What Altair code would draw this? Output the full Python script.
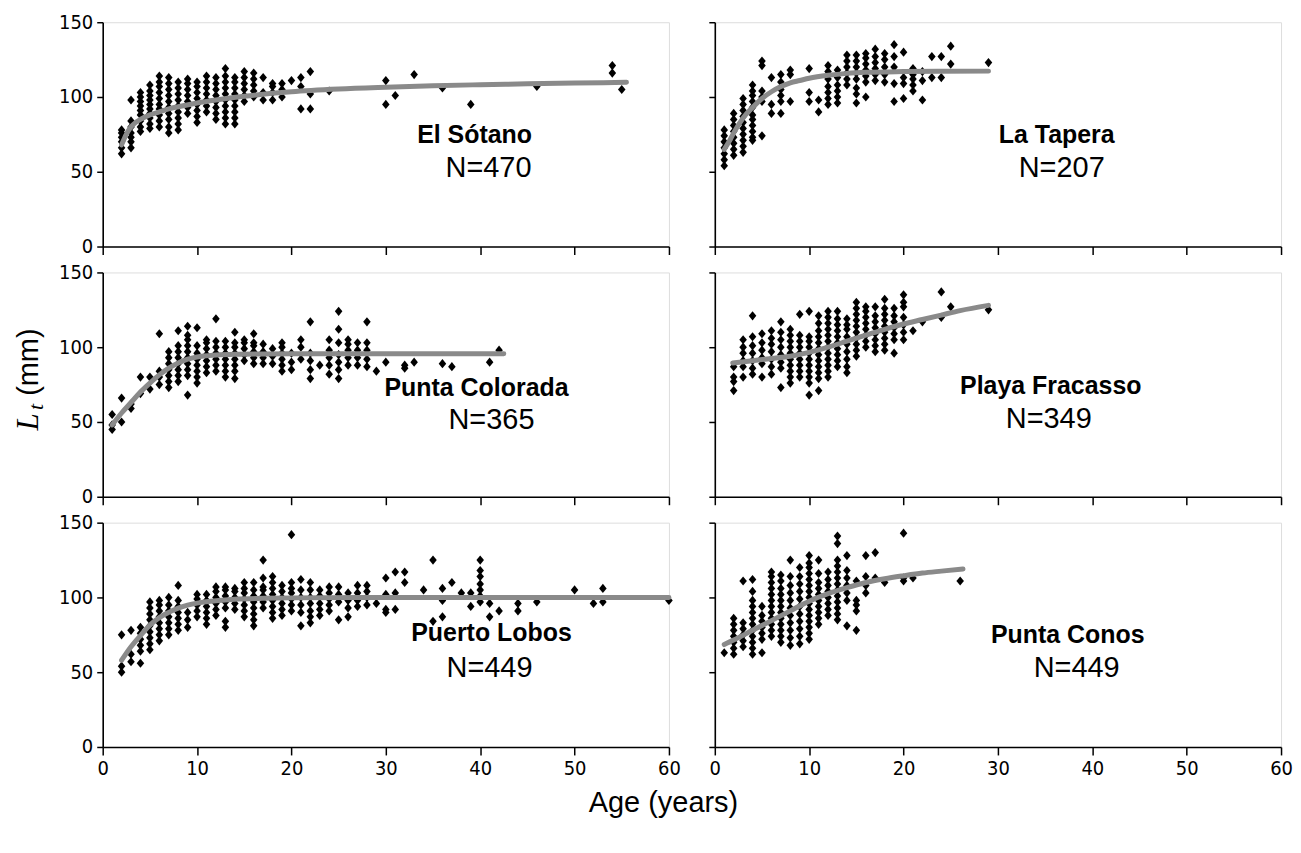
import altair as alt
import pandas as pd

# ---------------- data ----------------
# each dict: age (years) -> list of total lengths (mm) stacked at that age
ES_pts = {2: [62, 66, 70, 73, 76, 78], 3: [66, 70, 73, 76, 80, 84, 98],
          4: [77, 80, 84, 88, 91, 94, 97, 100, 103], 5: [79, 82, 86, 89, 92, 95, 98, 101, 104, 108],
          6: [80, 84, 88, 92, 95, 99, 103, 107, 110, 114], 7: [76, 80, 85, 89, 93, 97, 101, 105, 109, 113],
          8: [78, 82, 86, 90, 94, 98, 102, 106, 110], 9: [89, 93, 97, 101, 105, 109, 112],
          10: [83, 87, 91, 95, 99, 103, 107, 110], 11: [90, 94, 98, 102, 106, 110, 114],
          12: [85, 89, 93, 97, 101, 105, 109, 113], 13: [82, 86, 90, 94, 98, 102, 106, 110, 114, 119],
          14: [82, 86, 90, 94, 98, 102, 106, 110, 113], 15: [97, 101, 105, 109, 113, 117],
          16: [100, 104, 108, 112, 116], 17: [98, 103, 113], 18: [98, 103, 107, 109],
          19: [100, 105, 109], 20: [111], 21: [92, 107, 113], 22: [92, 102, 117], 24: [104],
          30: [95, 111], 31: [101], 33: [115], 36: [106], 39: [95], 46: [107], 54: [116, 121], 55: [105]}
ES_curve_age = [2, 2.5, 3, 3.5, 4, 5, 6, 7, 8, 10, 12, 15, 20, 25, 30, 35, 40, 45, 50, 55.5]
ES_curve_len = [68, 75, 80, 83, 85, 88, 90, 92, 93.5, 96, 98, 100.5, 103.5, 105.3, 106.5, 107.5, 108.2, 108.8, 109.3, 109.8]

LT_pts = {1: [54, 58, 62, 66, 70, 74, 78], 2: [61, 65, 69, 73, 77, 81, 85, 89],
          3: [63, 67, 71, 75, 79, 83, 87, 91, 95, 99], 4: [71, 73, 77, 81, 85, 88, 93, 97, 101, 104, 108],
          5: [74, 97, 100, 104, 121, 124], 6: [89, 95, 113], 7: [89, 97, 101, 105, 110, 115],
          8: [97, 115, 118], 10: [97, 103, 119], 11: [90, 98], 12: [95, 99, 103, 107, 112, 117, 121],
          13: [96, 100, 104, 108, 113, 118], 14: [108, 112, 116, 120, 124, 128],
          15: [96, 102, 106, 112, 116, 120, 124, 128], 16: [100, 110, 114, 118, 122, 126, 129],
          17: [111, 115, 119, 123, 127, 132], 18: [110, 115, 120, 125, 129], 19: [97, 109, 120, 127, 135],
          20: [99, 109, 113, 130], 21: [104, 108, 112, 115, 119], 22: [98, 111, 117], 23: [113, 127],
          24: [113, 127], 25: [122, 134], 29: [123]}
LT_curve_age = [1, 1.5, 2, 3, 4, 5, 6, 7, 8, 9, 10, 12, 14, 16, 20, 24, 29]
LT_curve_len = [65, 70, 76, 86, 93, 99, 103.5, 107, 109.5, 111, 112.5, 114.5, 115.8, 116.5, 117, 117.2, 117.3]

PC_pts = {1: [45, 48, 55], 2: [50, 66], 3: [59, 62], 4: [69, 80], 5: [72, 80], 6: [75, 80, 84, 109],
          7: [73, 77, 81, 85, 89, 93, 97], 8: [77, 81, 85, 89, 93, 97, 101, 111],
          9: [68, 81, 85, 89, 93, 97, 101, 105, 108, 114], 10: [76, 80, 84, 88, 92, 96, 101, 113],
          11: [83, 87, 91, 95, 99, 103, 105], 12: [84, 88, 92, 96, 100, 104, 119],
          13: [80, 84, 88, 92, 96, 100, 104], 14: [79, 84, 88, 92, 96, 100, 103, 110],
          15: [91, 95, 99, 103, 105], 16: [89, 93, 97, 101, 103, 109], 17: [89, 93, 97, 102],
          18: [89, 94, 99], 19: [84, 88, 92, 96, 100, 103], 20: [85, 90, 96], 21: [92, 100, 105],
          22: [79, 85, 91, 96, 117], 23: [88], 24: [82, 88, 93, 98, 105],
          25: [79, 85, 90, 95, 103, 112, 124], 26: [88, 93, 98, 102, 105], 27: [88, 93, 98, 103],
          28: [87, 92, 98, 103, 117], 29: [84], 30: [90], 32: [86, 88], 33: [90], 36: [89],
          37: [87], 41: [90], 42: [98]}
PC_curve_age = [1, 2, 3, 4, 5, 6, 7, 8, 9, 10, 12, 14, 17, 20, 30, 42.5]
PC_curve_len = [48, 56, 63, 70, 76, 81.5, 86, 89.5, 92, 93.5, 94.8, 95.3, 95.5, 95.6, 95.6, 95.6]

PF_pts = {2: [71, 77, 80, 87], 3: [80, 87, 91, 96, 100, 105], 4: [82, 86, 91, 96, 101, 107, 121],
          5: [80, 89, 93, 98, 103, 109], 6: [82, 87, 92, 97, 102, 106, 111],
          7: [73, 86, 90, 95, 100, 105, 110, 117], 8: [76, 80, 84, 88, 92, 96, 100, 104, 108, 112],
          9: [80, 84, 88, 92, 96, 100, 104, 108, 122], 10: [68, 76, 80, 84, 88, 92, 96, 100, 104, 107, 124],
          11: [71, 79, 83, 87, 91, 95, 99, 103, 107, 111, 116, 121],
          12: [80, 84, 88, 92, 96, 100, 104, 108, 112, 116, 120, 124],
          13: [87, 91, 95, 99, 103, 107, 111, 115, 119, 124], 14: [83, 87, 92, 97, 102, 107, 112, 115, 119],
          15: [94, 98, 102, 106, 110, 114, 118, 122, 126, 130], 16: [100, 104, 108, 112, 116, 120, 124, 127],
          17: [97, 101, 105, 109, 113, 117, 121, 127], 18: [98, 102, 106, 110, 114, 118, 122, 126, 132],
          19: [96, 105, 109, 113, 117, 121, 126], 20: [105, 110, 115, 120, 127, 130, 135],
          21: [111], 22: [117], 24: [120, 137], 25: [127], 29: [125]}
PF_curve_age = [1.9, 4, 6, 8, 10, 12, 14, 16, 18, 20, 22, 24, 26, 29]
PF_curve_len = [89.5, 91, 92.5, 94, 96.5, 100, 104, 108, 112, 115.5, 118.5, 121.5, 124.5, 128]

PL_pts = {2: [50, 54, 75], 3: [57, 62, 78], 4: [56, 64, 68, 72, 76, 80],
          5: [65, 69, 73, 77, 81, 85, 89, 93, 97], 6: [71, 75, 79, 83, 87, 91, 95, 98],
          7: [75, 79, 83, 87, 91, 95, 100], 8: [78, 82, 86, 90, 94, 98, 108], 9: [80, 85, 90],
          10: [87, 91, 95, 99, 102], 11: [82, 86, 90, 94, 98, 102], 12: [88, 92, 96, 100, 104, 107],
          13: [80, 84, 93, 97, 101, 105, 107], 14: [92, 96, 100, 104, 106],
          15: [87, 91, 95, 99, 103, 106, 110], 16: [81, 85, 89, 93, 97, 101, 105, 110],
          17: [93, 97, 101, 105, 107, 113, 125], 18: [86, 90, 94, 98, 102, 106, 110, 114],
          19: [88, 92, 96, 100, 104, 108], 20: [91, 95, 99, 103, 106, 110, 142],
          21: [81, 90, 95, 100, 105, 112], 22: [83, 87, 91, 96, 100, 105, 110],
          23: [88, 92, 96, 101, 105], 24: [91, 95, 99, 103, 107], 25: [85, 97, 102, 107],
          26: [87, 93, 98, 103], 27: [94, 98, 103, 108], 28: [95, 100, 104, 108], 29: [96],
          30: [90, 92, 102, 113], 31: [92, 103, 117], 32: [110, 117], 34: [105], 35: [84, 125],
          36: [87, 98, 106], 37: [110], 38: [103], 39: [94, 103], 40: [97, 101, 105, 109, 114, 118, 125],
          41: [87, 96], 42: [91], 44: [91, 96], 46: [97], 50: [105], 52: [96], 53: [97, 106], 60: [98]}
PL_curve_age = [2, 3, 4, 5, 6, 7, 8, 9, 10, 12, 14, 17, 20, 30, 40, 60]
PL_curve_len = [58, 67, 74.5, 81.5, 86.5, 90, 92.8, 94.8, 96.2, 97.8, 98.8, 99.4, 99.7, 100, 100, 100]

PN_pts = {1: [63], 2: [62, 66, 70, 74, 78, 82, 86], 3: [67, 71, 75, 79, 83, 111],
          4: [62, 66, 70, 74, 78, 82, 86, 90, 94, 98, 104, 112], 5: [63, 72, 76, 80, 84, 88, 94],
          6: [74, 78, 82, 86, 90, 94, 98, 102, 106, 110, 114, 117],
          7: [70, 74, 78, 82, 86, 90, 94, 98, 102, 106, 111, 115],
          8: [68, 73, 78, 83, 88, 93, 98, 103, 108, 114, 125],
          9: [69, 74, 79, 84, 89, 94, 99, 104, 109, 114, 120],
          10: [72, 76, 80, 84, 88, 92, 96, 100, 104, 108, 112, 116, 120, 123, 128],
          11: [82, 86, 90, 94, 98, 102, 106, 110, 116, 125], 12: [88, 92, 96, 100, 104, 108, 112, 117],
          13: [85, 89, 93, 97, 101, 105, 109, 113, 117, 121, 125, 136, 141],
          14: [81, 98, 103, 108, 113, 118, 128], 15: [78, 91, 95, 98, 111], 16: [103, 108, 114, 128],
          17: [113, 130], 18: [110], 20: [111, 113, 143], 21: [113], 26: [111]}
PN_curve_age = [1, 2, 4, 6, 8, 10, 12, 14, 16, 18, 20, 22, 24, 26.3]
PN_curve_len = [68.5, 71.5, 78, 84.5, 91, 97.5, 102.5, 106.5, 110, 112.5, 114.5, 116.3, 117.6, 119]

SITES = ["El Sótano", "La Tapera", "Punta Colorada", "Playa Fracasso", "Puerto Lobos", "Punta Conos"]
N_LABELS = ["N=470", "N=207", "N=365", "N=349", "N=449", "N=449"]
X_TICKS = [0, 10, 20, 30, 40, 50, 60]
Y_TICKS = [0, 50, 100, 150]

# ---------------- styling ----------------
W, H = 568, 225
NUM_FONT = "Liberation Sans Narrow, Arial Narrow, DejaVu Sans Condensed, Liberation Sans, Arial"
TXT_FONT = "Liberation Sans, Arial"
DIAMOND = "M0,-1L0.82,0L0,1L-0.82,0Z"
CURVE_COLOR = "#8a8a8a"

# label placement (pixels inside each panel)
NAME_POS = [(373, 113), (343, 113), (375, 116), (337, 114), (390, 111), (354, 113)]
N_POS = [(387, 146), (348, 146), (390, 148), (335, 147), (388, 146), (363, 146)]


def flatten(d):
    return pd.DataFrame([{"age": a, "len": v} for a, vs in d.items() for v in vs])


def panel(i, pts, cage, clen, left, bottom, ytitle=False, xtitle=False):
    x_kw = dict(values=X_TICKS, labels=bottom, grid=False, tickSize=8, tickWidth=1.5,
                domainWidth=1.6, domainColor="black", tickColor="black", labelFlush=False,
                labelFont=NUM_FONT, labelFontSize=20, labelColor="black", labelPadding=4)
    if xtitle:
        x_axis = alt.Axis(title="Age (years)", titleX=562, titleY=56, titleAlign="center",
                          titleBaseline="middle", titleFont=TXT_FONT, titleFontSize=29,
                          titleFontWeight="normal", titleColor="black", **x_kw)
    else:
        x_axis = alt.Axis(title=None, **x_kw)
    y_axis = alt.Axis(values=Y_TICKS, labels=left, grid=False, tickSize=6, tickWidth=1.5,
                      domainWidth=1.6, domainColor="black", tickColor="black", labelFont=NUM_FONT,
                      labelFontSize=20, labelColor="black", labelPadding=4, title=None)
    xs = alt.X("age:Q", scale=alt.Scale(domain=[0, 60], nice=False, zero=False), axis=x_axis)
    ys = alt.Y("len:Q", scale=alt.Scale(domain=[0, 150], nice=False), axis=y_axis)

    points = alt.Chart(flatten(pts)).mark_point(shape=DIAMOND, filled=True, size=85, color="black",
                                                opacity=1, strokeWidth=0).encode(x=xs, y=ys)
    curve = alt.Chart(pd.DataFrame({"age": cage, "len": clen})).mark_line(
        color=CURVE_COLOR, strokeWidth=5, strokeCap="round", interpolate="monotone").encode(x=xs, y=ys)
    name = alt.Chart(pd.DataFrame({"t": [SITES[i]]})).mark_text(
        font=TXT_FONT, fontSize=25, fontWeight="bold", color="black", align="center", baseline="middle"
    ).encode(text="t:N", x=alt.value(NAME_POS[i][0]), y=alt.value(NAME_POS[i][1]))
    nlab = alt.Chart(pd.DataFrame({"t": [N_LABELS[i]]})).mark_text(
        font=TXT_FONT, fontSize=29, color="black", align="center", baseline="middle"
    ).encode(text="t:N", x=alt.value(N_POS[i][0]), y=alt.value(N_POS[i][1]))
    layers = [points, curve, name, nlab]
    if ytitle:
        yL = alt.Chart(pd.DataFrame({"t": ["L"]})).mark_text(
            font="Liberation Serif, DejaVu Serif", fontStyle="italic", fontSize=31, color="black",
            angle=270, align="center", baseline="middle"
        ).encode(text="t:N", x=alt.value(-74), y=alt.value(150))
        yt = alt.Chart(pd.DataFrame({"t": ["t"]})).mark_text(
            font="Liberation Serif, DejaVu Serif", fontStyle="italic", fontSize=22, color="black",
            angle=270, align="center", baseline="middle"
        ).encode(text="t:N", x=alt.value(-67), y=alt.value(135))
        ymm = alt.Chart(pd.DataFrame({"t": ["(mm)"]})).mark_text(
            font=TXT_FONT, fontSize=29, color="black", angle=270, align="center", baseline="middle"
        ).encode(text="t:N", x=alt.value(-74), y=alt.value(90))
        layers += [yL, yt, ymm]
    return alt.layer(*layers).properties(width=W, height=H)


p1 = panel(0, ES_pts, ES_curve_age, ES_curve_len, left=True, bottom=False)
p2 = panel(1, LT_pts, LT_curve_age, LT_curve_len, left=False, bottom=False)
p3 = panel(2, PC_pts, PC_curve_age, PC_curve_len, left=True, bottom=False, ytitle=True)
p4 = panel(3, PF_pts, PF_curve_age, PF_curve_len, left=False, bottom=False)
p5 = panel(4, PL_pts, PL_curve_age, PL_curve_len, left=True, bottom=True, xtitle=True)
p6 = panel(5, PN_pts, PN_curve_age, PN_curve_len, left=False, bottom=True)

chart = alt.concat(p1, p2, p3, p4, p5, p6, columns=2,
                   spacing=alt.RowColnumber(row=26, column=46), bounds="flush").properties(
    padding={"left": 4, "top": 2, "right": 0, "bottom": 2}).configure_view(
    strokeWidth=0).configure(background="white")

chart.save("out.html", embed_options={"renderer": "svg", "actions": False})
